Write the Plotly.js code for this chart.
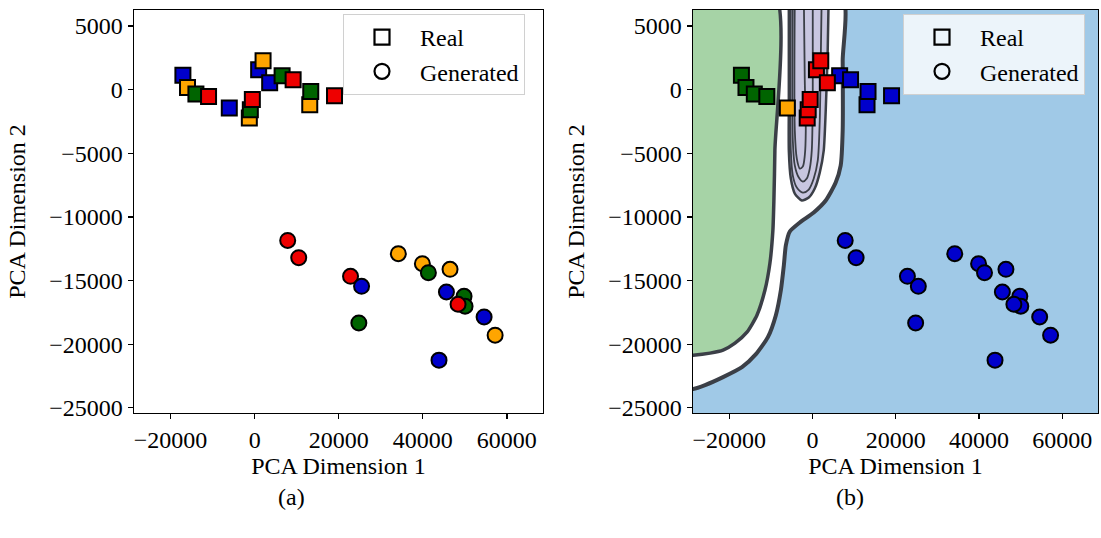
<!DOCTYPE html>
<html>
<head>
<meta charset="utf-8">
<script src="https://cdn.plot.ly/plotly-3.0.1.min.js"></script>
<style>html,body{margin:0;padding:0;background:#fff;}#chart{width:1101px;height:538px;}</style>
</head>
<body>
<div id="chart"></div>
<script>
// ---- Real samples (squares) ----
const realX = [-17068, -6031, 954, 3576, -15971, -1263, 2002, 13111, -13969, -1025, 6532, 13349, -10965, -548, 9154, 19000];
const realY = [1136, -1450, 1552, 533, 165, -2234, 2257, -1191, -353, -1583, 1082, -149, -541, -776, 768, -486];
const realClass = ['blue','blue','blue','blue','orange','orange','orange','orange','green','green','green','green','red','red','red','red'];
// colours of the real samples in panel (b)
const realClassB = ['green','orange','red','red','green','red','red','blue','green','red','blue','blue','green','red','blue','blue'];

// ---- Generated samples (circles) ----
const genX = [34184, 39905, 46484, 57211, 24791, 41335, 49821, 50060, 7866, 10489, 22813, 48391, 25435, 45626, 54589, 43862];
const genY = [-12892, -13676, -14122, -19295, -18331, -14381, -16238, -17022, -11850, -13205, -14671, -16865, -15455, -15901, -17861, -21254];
const genClass = ['orange','orange','orange','orange','green','green','green','green','red','red','red','red','blue','blue','blue','blue'];

// ---- Decision regions of panel (b), boundary vertices ----
const greenRegionX = [-32000, -9029, -9029, -9269, -9508, -10227, -11424, -13340, -15735, -18609, -21483, -24597, -28668, -32000];
const greenRegionY = [7500, 7500, -4796, -8730, -11067, -13653, -15768, -17727, -19060, -19922, -20471, -20705, -20863, -20900];

const whiteRegionX = [-32000, 7017, 7257, 7257, 6777, 5581, 3185, 311, -3042, -5437, -6395, -6874, -7593, -8790, -10706, -13580, -16933, -21483, -25794, -28668, -32000];
const whiteRegionY = [7500, 7500, 2257, -3229, -5972, -7304, -8715, -9656, -10439, -11145, -12241, -13810, -15768, -17727, -19452, -20784, -21803, -22586, -23213, -23527, -23600];

const purpleRegionX = [-5676, -5676, -5676, -5197, -4239, -2563, -886, 551, 1748, 2706, 3185, 3664, 3904];
const purpleRegionY = [7500, -878, -4796, -6991, -8166, -8715, -8480, -7774, -6520, -4796, -1661, 3041, 7500];

const purpleLine1X = [-5197, -5197, -4718, -3760, -2323, -886, 311, 1269, 1748, 1988, 2227];
const purpleLine1Y = [7500, -4796, -6756, -7696, -8087, -7852, -6991, -5580, -2445, 2257, 7500];
const purpleLine2X = [-4718, -4718, -4239, -3281, -2323, -1365, -647, -168, 72, 72];
const purpleLine2Y = [7500, -4013, -5972, -6913, -7226, -6991, -6207, -4796, -878, 7500];
const purpleLine3X = [-4239, -4239, -3760, -3042, -2323, -1845, -1605, -1845, -2084];
const purpleLine3Y = [7500, -3229, -5423, -6207, -6050, -5188, -3229, 690, 7500];

// ---- Axis ticks ----
const xTicks = [-20000, 0, 20000, 40000, 60000];
const yTicks = [5000, 0, -5000, -10000, -15000, -20000, -25000];

const COLORS = {blue:'#0000cc', orange:'#ffa500', green:'#006400', red:'#ee0000'};
const FILL = {green:'#a6d3a6', blue:'#a0c9e7', purple:'#c8c6e0', white:'#ffffff'};
const LINEC = '#3b3f47';
const FONT = 'Liberation Serif, Times New Roman, serif';

const X_RANGE = [-28700, 68600];
const Y_RANGE = [-25408, 6254];

function sel(arr, idx){ return idx.map(i => arr[i]); }

const traces = [];

// panel (b) regions
function region(x, y, fill, w){
  return {type:'scatter', mode:'lines', x:x, y:y, fill:'toself', fillcolor:fill,
    line:{color:LINEC, width:w, shape:'spline', smoothing:0.6}, xaxis:'x2', yaxis:'y2', showlegend:false, hoverinfo:'skip'};
}
function cline(x, y){
  return {type:'scatter', mode:'lines', x:x, y:y, line:{color:LINEC, width:1.8, shape:'spline', smoothing:0.8},
    xaxis:'x2', yaxis:'y2', showlegend:false, hoverinfo:'skip'};
}
traces.push(region(whiteRegionX, whiteRegionY, FILL.white, 4));
traces.push(region(greenRegionX, greenRegionY, FILL.green, 3.5));
traces.push(region(purpleRegionX, purpleRegionY, FILL.purple, 2.5));
traces.push(cline(purpleLine1X, purpleLine1Y));
traces.push(cline(purpleLine2X, purpleLine2Y));
traces.push(cline(purpleLine3X, purpleLine3Y));

// panel (a) points
traces.push({type:'scatter', mode:'markers', x:realX, y:realY, xaxis:'x', yaxis:'y', showlegend:false,
  marker:{symbol:'square', size:15, color:realClass.map(c=>COLORS[c]), line:{color:'#000', width:2}}});
traces.push({type:'scatter', mode:'markers', x:genX, y:genY, xaxis:'x', yaxis:'y', showlegend:false,
  marker:{symbol:'circle', size:15, color:genClass.map(c=>COLORS[c]), line:{color:'#000', width:2}}});

// panel (b) points (drawn grouped by their colour)
const orderB = ['green','orange','blue','red'];
const idxB = realX.map((_, i) => i).sort((a, b) => (orderB.indexOf(realClassB[a]) - orderB.indexOf(realClassB[b])) || (a - b));
traces.push({type:'scatter', mode:'markers', x:sel(realX, idxB), y:sel(realY, idxB), xaxis:'x2', yaxis:'y2', showlegend:false,
  marker:{symbol:'square', size:15, color:sel(realClassB, idxB).map(c=>COLORS[c]), line:{color:'#000', width:2}}});
traces.push({type:'scatter', mode:'markers', x:genX, y:genY, xaxis:'x2', yaxis:'y2', showlegend:false,
  marker:{symbol:'circle', size:15, color:COLORS.blue, line:{color:'#000', width:2}}});

// legend entries
[['legend','x','y'],['legend2','x2','y2']].forEach(([lg, xa, ya]) => {
  traces.push({type:'scatter', mode:'markers', x:[null], y:[null], xaxis:xa, yaxis:ya, name:'Real', legend:lg, legendgroup:lg+'r',
    marker:{symbol:'square-open', size:15, color:'#000', line:{width:2.2}}});
  traces.push({type:'scatter', mode:'markers', x:[null], y:[null], xaxis:xa, yaxis:ya, name:'Generated', legend:lg, legendgroup:lg+'g',
    marker:{symbol:'circle-open', size:15, color:'#000', line:{width:2.2}}});
});

const W = 1101, H = 538;
const yDom = [1 - 413/H, 1 - 10/H];
function xax(dom, anchor){
  return {domain:dom, range:X_RANGE, anchor:anchor, tickvals:xTicks, tickformat:'d', ticks:'outside', ticklen:5, tickwidth:1.3, tickcolor:'#000',
    showline:true, mirror:true, linecolor:'#000', linewidth:1.4, showgrid:false, zeroline:false,
    tickfont:{family:FONT, size:24, color:'#000'},
    title:{text:'PCA Dimension 1', font:{family:FONT, size:24, color:'#000'}, standoff:4}};
}
function yax(anchor){
  return {domain:yDom, range:Y_RANGE, anchor:anchor, tickvals:yTicks, tickformat:'d', ticks:'outside', ticklen:5, tickwidth:1.3, tickcolor:'#000',
    showline:true, mirror:true, linecolor:'#000', linewidth:1.4, showgrid:false, zeroline:false,
    tickfont:{family:FONT, size:24, color:'#000'},
    title:{text:'PCA Dimension 2', font:{family:FONT, size:24, color:'#000'}, standoff:17}};
}
function leg(x, bg){
  return {x:x, y:1 - 14/H, xanchor:'left', yanchor:'top', bgcolor:bg, bordercolor:'#d0d0d0', borderwidth:1,
    font:{family:FONT, size:24, color:'#000'}, itemwidth:66, tracegroupgap:0, orientation:'v'};
}

const layout = {
  width:W, height:H, autosize:false,
  margin:{l:0, r:0, t:0, b:0, pad:0},
  paper_bgcolor:'#fff', plot_bgcolor:'rgba(0,0,0,0)',
  xaxis:xax([134/W, 543/W], 'y'), yaxis:yax('x'),
  xaxis2:xax([693/W, 1098/W], 'y2'), yaxis2:yax('x2'),
  legend:leg(343/W, 'rgba(255,255,255,0.85)'), legend2:leg(903/W, 'rgba(255,255,255,0.8)'),
  shapes:[{type:'rect', xref:'x2 domain', yref:'y2 domain', x0:0, x1:1, y0:0, y1:1, fillcolor:FILL.blue, line:{width:0}, layer:'below'}],
  annotations:[
    {text:'(a)', xref:'paper', yref:'paper', x:291/W, y:1 - 497/H, xanchor:'center', yanchor:'middle', showarrow:false, font:{family:FONT, size:24, color:'#000'}},
    {text:'(b)', xref:'paper', yref:'paper', x:850/W, y:1 - 497/H, xanchor:'center', yanchor:'middle', showarrow:false, font:{family:FONT, size:24, color:'#000'}}
  ],
  showlegend:true
};

Plotly.newPlot('chart', traces, layout, {displayModeBar:false, staticPlot:true});
</script>
</body>
</html>
